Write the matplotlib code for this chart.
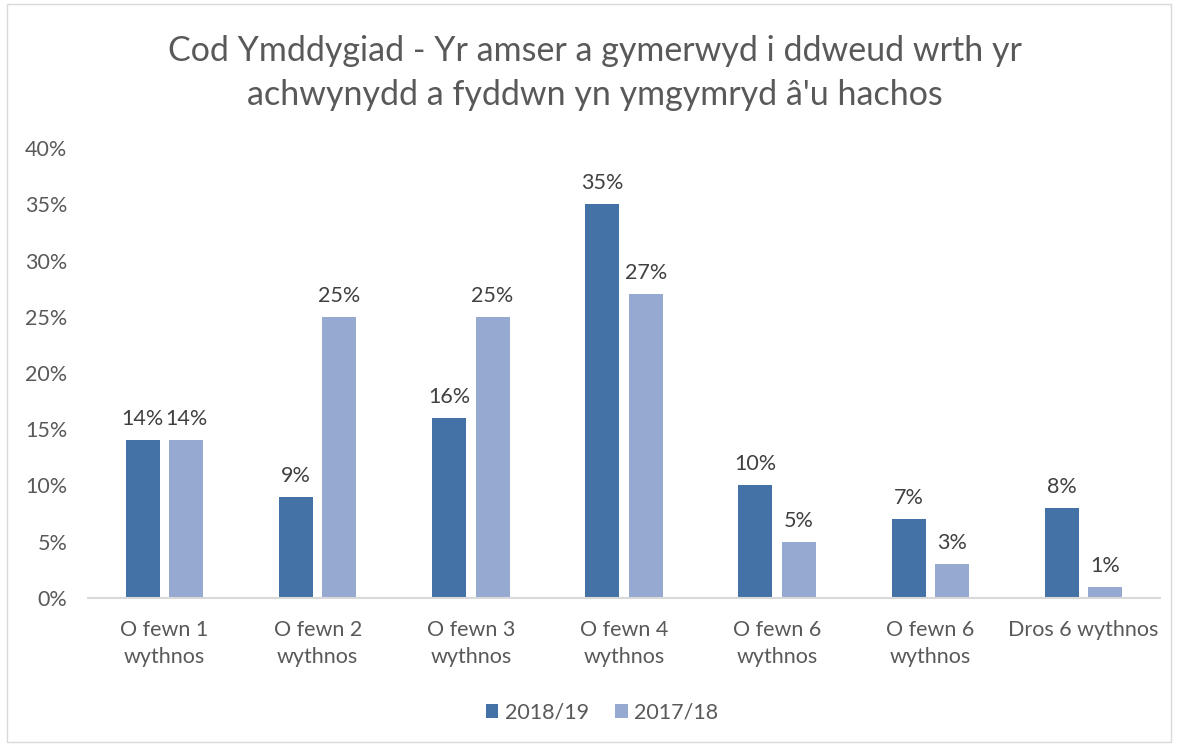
import matplotlib
matplotlib.use("Agg")
import matplotlib.pyplot as plt
from matplotlib.patches import Rectangle
import numpy as np

plt.rcParams['font.family'] = ['Lato', 'DejaVu Sans']

categories = ["O fewn 1\nwythnos", "O fewn 2\nwythnos", "O fewn 3\nwythnos",
              "O fewn 4\nwythnos", "O fewn 6\nwythnos", "O fewn 6\nwythnos",
              "Dros 6 wythnos"]
vals_1819 = [14, 9, 16, 35, 10, 7, 8]
vals_1718 = [14, 25, 25, 27, 5, 3, 1]
series_names = ["2018/19", "2017/18"]
title = "Cod Ymddygiad - Yr amser a gymerwyd i ddweud wrth yr\nachwynydd a fyddwn yn ymgymryd â'u hachos"

dark = "#4472a6"
light = "#95a9d1"
txt = "#595959"

fig = plt.figure(figsize=(11.78, 7.46), dpi=100)
ax = fig.add_axes([0.0747, 0.1984, 0.91, 0.6032])

x = np.arange(len(categories))
w = 0.222
off = 0.142
b1 = ax.bar(x - off, np.array(vals_1819) / 100, w, color=dark, label=series_names[0])
b2 = ax.bar(x + off, np.array(vals_1718) / 100, w, color=light, label=series_names[1])

for bars, vals in ((b1, vals_1819), (b2, vals_1718)):
    for b, v in zip(bars, vals):
        ax.annotate(f"{v}%", (b.get_x() + b.get_width() / 2, b.get_height()),
                    xytext=(0, 8), textcoords="offset points", ha="center", va="bottom",
                    fontsize=15.5, color="#404040")

ax.set_xlim(-0.5, len(categories) - 0.5)
ax.set_ylim(0, 0.40)
ax.set_yticks(np.arange(0, 0.41, 0.05))
ax.set_yticklabels([f"{int(round(t * 100))}%" for t in np.arange(0, 0.41, 0.05)])
ax.set_xticks(x)
ax.set_xticklabels(categories, linespacing=1.45)
ax.tick_params(axis="both", length=0, labelsize=15.5, colors=txt)
ax.tick_params(axis="x", pad=16)
ax.tick_params(axis="y", pad=15)
for s in ("top", "right", "left"):
    ax.spines[s].set_visible(False)
ax.spines["bottom"].set_color("#d9d9d9")
ax.spines["bottom"].set_linewidth(1.5)

fig.text(0.505, 0.902, title, ha="center", va="center", fontsize=24.5, color=txt,
         linespacing=1.45)

leg = fig.legend(loc="center", bbox_to_anchor=(0.511, 0.045), ncol=2, frameon=False,
                 fontsize=15.5, handlelength=0.6, handleheight=0.6, handletextpad=0.3,
                 columnspacing=1.2)
for t in leg.get_texts():
    t.set_color(txt)

fig.patches.append(Rectangle((0.006, 0.005), 0.988, 0.99, transform=fig.transFigure,
                             fill=False, edgecolor="#d9d9d9", linewidth=1))

fig.savefig("out.png", dpi=100)
